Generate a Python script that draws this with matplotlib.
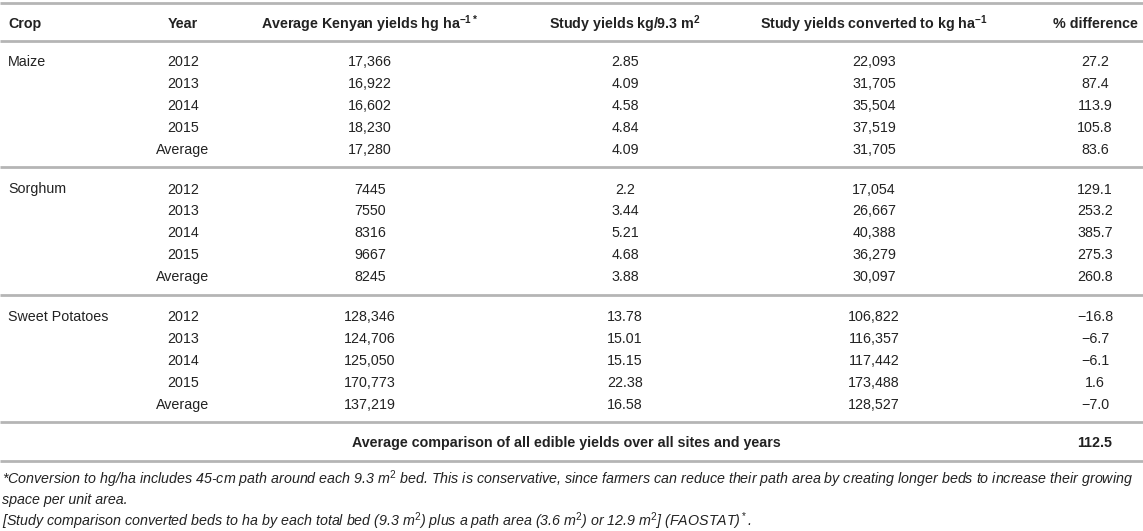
import matplotlib
matplotlib.use("Agg")
import matplotlib.pyplot as plt

plt.rcParams['font.family'] = ['Liberation Sans', 'DejaVu Sans']
plt.rcParams['mathtext.fontset'] = 'custom'
plt.rcParams['mathtext.rm'] = 'Liberation Sans'
plt.rcParams['mathtext.it'] = 'Liberation Sans:italic'
plt.rcParams['mathtext.bf'] = 'Liberation Sans:bold'

# table data
crops = ["Maize", "Sorghum", "Sweet Potatoes"]
years = ["2012", "2013", "2014", "2015", "Average"]
kenyan = [
    [17366, 16922, 16602, 18230, 17280],
    [7445, 7550, 8316, 9667, 8245],
    [128346, 124706, 125050, 170773, 137219],
]
study = [
    ["2.85", "4.09", "4.58", "4.84", "4.09"],
    ["2.2", "3.44", "5.21", "4.68", "3.88"],
    ["13.78", "15.01", "15.15", "22.38", "16.58"],
]
converted = [
    [22093, 31705, 35504, 37519, 31705],
    [17054, 26667, 40388, 36279, 30097],
    [106822, 116357, 117442, 173488, 128527],
]
diff = [
    [27.2, 87.4, 113.9, 105.8, 83.6],
    [129.1, 253.2, 385.7, 275.3, 260.8],
    [-16.8, -6.7, -6.1, 1.6, -7.0],
]
overall_label = "Average comparison of all edible yields over all sites and years"
overall_value = 112.5

headers = ["Crop", "Year",
           r"Average Kenyan yields hg ha$^{\mathbf{-1*}}$",
           r"Study yields kg/9.3 m$^{\mathbf{2}}$",
           r"Study yields converted to kg ha$^{\mathbf{-1}}$",
           "% difference"]

notes = [
    r"*Conversion to hg/ha includes 45-cm path around each 9.3 m$^2$ bed. This is conservative, since farmers can reduce their path area by creating longer beds to increase their growing",
    "space per unit area.",
    r"[Study comparison converted beds to ha by each total bed (9.3 m$^2$) plus a path area (3.6 m$^2$) or 12.9 m$^2$] (FAOSTAT)$^*$.",
]


def fmt_int(v):
    return f"{v:,}" if v >= 10000 else str(v)


def fmt_pct(v):
    return f"{v:.1f}".replace("-", "\u2212")


W, H = 1143, 531
fig = plt.figure(figsize=(W / 100, H / 100), dpi=100)
ax = fig.add_axes([0, 0, 1, 1])
ax.set_xlim(0, W)
ax.set_ylim(H, 0)
ax.axis("off")

txt = "#222222"
rule = "#b5b5b5"
fs = 10.3

col_x = [8, 183, 370, 625, 874, 1095]

# header
ax.hlines(3, 0, W, color=rule, lw=2)
ax.text(col_x[0], 24, headers[0], ha="left", va="center", fontsize=fs,
        fontweight="bold", color=txt)
for x, h in zip(col_x[1:], headers[1:]):
    ax.text(x, 24, h, ha="center", va="center", fontsize=fs,
            fontweight="bold", color=txt)
ax.hlines(41, 0, W, color=rule, lw=2)

top = 62
row_h = 21.9
block = 127.5
for i, crop in enumerate(crops):
    y0 = top + i * block
    ax.text(col_x[0], y0, crop, ha="left", va="center", fontsize=fs, color=txt)
    for j, yr in enumerate(years):
        y = y0 + j * row_h
        cells = [yr, fmt_int(kenyan[i][j]), study[i][j],
                 fmt_int(converted[i][j]), fmt_pct(diff[i][j])]
        for x, c in zip(col_x[1:], cells):
            ax.text(x, y, c, ha="center", va="center", fontsize=fs, color=txt)
    ax.hlines(y0 + 105, 0, W, color=rule, lw=2)

# overall row
ax.text(566, 443, overall_label, ha="center", va="center", fontsize=fs,
        fontweight="bold", color=txt, family=["Liberation Sans Narrow", "Liberation Sans"])
ax.text(col_x[5], 443, fmt_pct(overall_value), ha="center", va="center",
        fontsize=fs, fontweight="bold", color=txt,
        family=["Liberation Sans Narrow", "Liberation Sans"])
ax.hlines(461, 0, W, color=rule, lw=2)

for k, n in enumerate(notes):
    ax.text(2, 479 + k * 21, n, ha="left", va="center", fontsize=fs,
            style="italic", color=txt,
            family=["Liberation Sans Narrow", "Liberation Sans"])

fig.savefig("out.png", dpi=100)
